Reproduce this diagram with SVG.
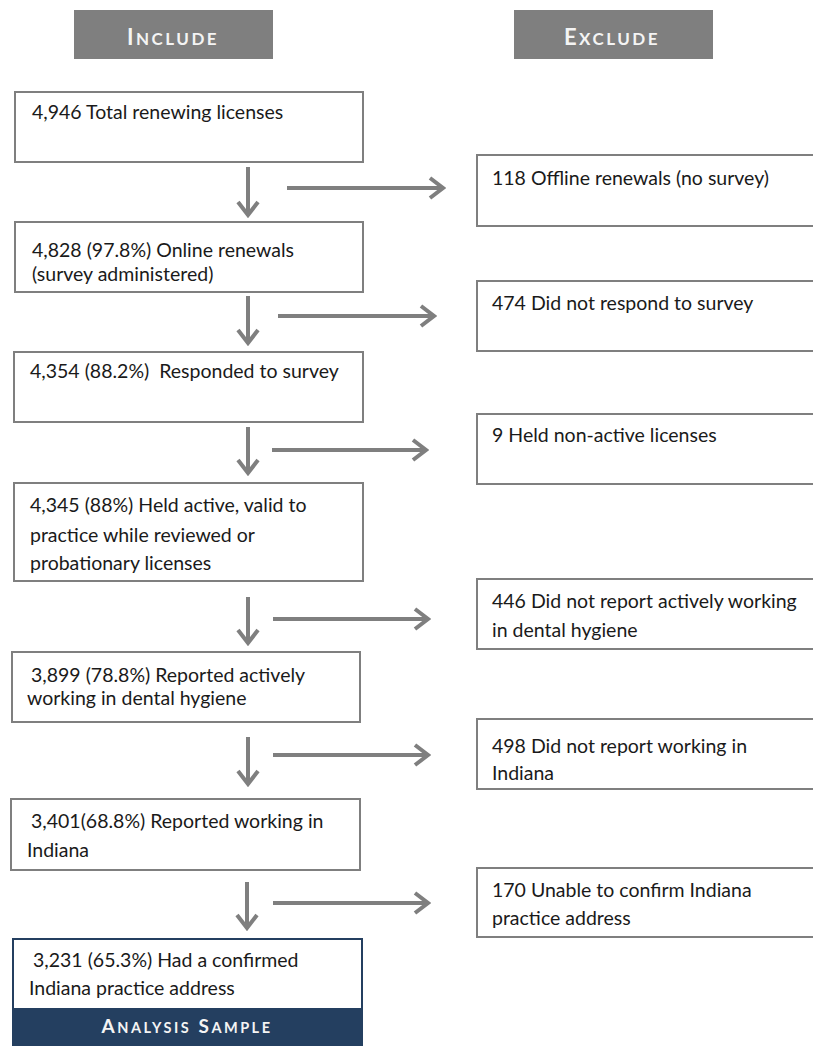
<svg xmlns="http://www.w3.org/2000/svg" width="813" height="1046" viewBox="0 0 813 1046">
<defs>
<style>
.box{fill:#fff;stroke:#7f7f7f;stroke-width:2}
.t{font-family:Lato,"Liberation Sans",sans-serif;font-size:19.5px;fill:#1a1a1a}
.hdr{fill:#7f7f7f}
.ht{font-family:Lato,"Liberation Sans",sans-serif;font-weight:bold;fill:#f4f4f4;letter-spacing:2.5px}
.c{stroke:#7f7f7f;stroke-width:4;fill:none}
</style>
<marker id="ah" markerUnits="userSpaceOnUse" viewBox="0 0 18 24" markerWidth="18" markerHeight="24" refX="15" refY="12" orient="auto">
<path d="M2,2 L15,12 L2,22" fill="none" stroke="#7f7f7f" stroke-width="4"/>
</marker>
</defs>
<rect width="813" height="1046" fill="#fff"/>

<g id="header-include">
<rect class="hdr" x="74" y="10" width="199" height="49"/>
<text class="ht" x="173" y="45" text-anchor="middle"><tspan font-size="22">I</tspan><tspan font-size="17">NCLUDE</tspan></text>
</g>
<g id="header-exclude">
<rect class="hdr" x="514" y="10" width="199" height="49"/>
<text class="ht" x="612" y="45" text-anchor="middle"><tspan font-size="22">E</tspan><tspan font-size="17">XCLUDE</tspan></text>
</g>

<g id="inc1">
<rect class="box" x="15" y="92" width="348" height="70"/>
<text class="t" x="32" y="119">4,946 Total renewing licenses</text>
</g>
<g id="inc2">
<rect class="box" x="15" y="222" width="348" height="70"/>
<text class="t" x="32" y="257">4,828 (97.8%) Online renewals</text>
<text class="t" x="32" y="281">(survey administered)</text>
</g>
<g id="inc3">
<rect class="box" x="14" y="352" width="349" height="70"/>
<text class="t" x="30" y="378" xml:space="preserve">4,354 (88.2%)  Responded to survey</text>
</g>
<g id="inc4">
<rect class="box" x="14" y="483" width="349" height="98"/>
<text class="t" x="30" y="512">4,345 (88%) Held active, valid to</text>
<text class="t" x="30" y="542">practice while reviewed or</text>
<text class="t" x="30" y="570">probationary licenses</text>
</g>
<g id="inc5">
<rect class="box" x="12" y="652" width="348" height="70"/>
<text class="t" x="31" y="682">3,899 (78.8%) Reported actively</text>
<text class="t" x="27" y="705">working in dental hygiene</text>
</g>
<g id="inc6">
<rect class="box" x="11" y="799" width="349" height="71"/>
<text class="t" x="31" y="828">3,401(68.8%) Reported working in</text>
<text class="t" x="27" y="857">Indiana</text>
</g>
<g id="final">
<rect x="13" y="939" width="349" height="110" fill="#fff" stroke="#243f60" stroke-width="2"/>
<rect x="13" y="1008" width="349" height="40" fill="#243f60"/>
<text class="t" x="33" y="967">3,231 (65.3%) Had a confirmed</text>
<text class="t" x="29" y="995">Indiana practice address</text>
<text class="ht" x="187" y="1033" text-anchor="middle" letter-spacing="4.5"><tspan font-size="19">A</tspan><tspan font-size="14.5">NALYSIS</tspan><tspan font-size="19"> S</tspan><tspan font-size="14.5">AMPLE</tspan></text>
</g>

<g id="exc1">
<rect class="box" x="477" y="155" width="340" height="71"/>
<text class="t" x="492" y="185">118 Offline renewals (no survey)</text>
</g>
<g id="exc2">
<rect class="box" x="477" y="281" width="340" height="70"/>
<text class="t" x="492" y="310">474 Did not respond to survey</text>
</g>
<g id="exc3">
<rect class="box" x="477" y="414" width="340" height="70"/>
<text class="t" x="492" y="442">9 Held non-active licenses</text>
</g>
<g id="exc4">
<rect class="box" x="477" y="579" width="340" height="70"/>
<text class="t" x="492" y="608">446 Did not report actively working</text>
<text class="t" x="492" y="637">in dental hygiene</text>
</g>
<g id="exc5">
<rect class="box" x="477" y="719" width="340" height="70"/>
<text class="t" x="492" y="753">498 Did not report working in</text>
<text class="t" x="492" y="780">Indiana</text>
</g>
<g id="exc6">
<rect class="box" x="477" y="868" width="340" height="69"/>
<text class="t" x="492" y="897">170 Unable to confirm Indiana</text>
<text class="t" x="492" y="925">practice address</text>
</g>

<g id="connectors">
<line class="c" x1="248" y1="167" x2="248" y2="215" marker-end="url(#ah)"/>
<line class="c" x1="287" y1="188" x2="443" y2="188" marker-end="url(#ah)"/>
<line class="c" x1="248" y1="296" x2="248" y2="343" marker-end="url(#ah)"/>
<line class="c" x1="278" y1="316" x2="434" y2="316" marker-end="url(#ah)"/>
<line class="c" x1="248" y1="427" x2="248" y2="473" marker-end="url(#ah)"/>
<line class="c" x1="272" y1="450" x2="426" y2="450" marker-end="url(#ah)"/>
<line class="c" x1="248" y1="597" x2="248" y2="643" marker-end="url(#ah)"/>
<line class="c" x1="273" y1="619" x2="428" y2="619" marker-end="url(#ah)"/>
<line class="c" x1="248" y1="737" x2="248" y2="784" marker-end="url(#ah)"/>
<line class="c" x1="273" y1="755" x2="428" y2="755" marker-end="url(#ah)"/>
<line class="c" x1="247" y1="882" x2="247" y2="928" marker-end="url(#ah)"/>
<line class="c" x1="273" y1="903" x2="428" y2="903" marker-end="url(#ah)"/>
</g>
</svg>
